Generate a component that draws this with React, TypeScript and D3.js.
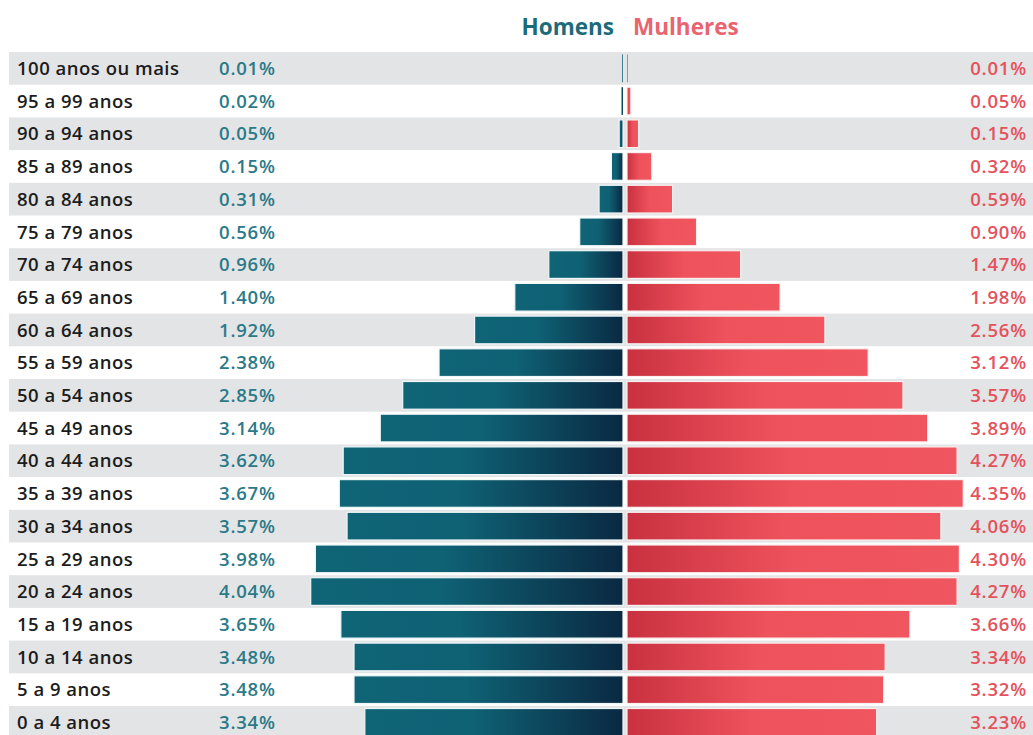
import React from "react";
import * as d3 from "d3";

const ageGroups = [
  "100 anos ou mais", "95 a 99 anos", "90 a 94 anos", "85 a 89 anos", "80 a 84 anos",
  "75 a 79 anos", "70 a 74 anos", "65 a 69 anos", "60 a 64 anos", "55 a 59 anos",
  "50 a 54 anos", "45 a 49 anos", "40 a 44 anos", "35 a 39 anos", "30 a 34 anos",
  "25 a 29 anos", "20 a 24 anos", "15 a 19 anos", "10 a 14 anos", "5 a 9 anos", "0 a 4 anos",
];
const men = [0.01, 0.02, 0.05, 0.15, 0.31, 0.56, 0.96, 1.40, 1.92, 2.38, 2.85, 3.14, 3.62, 3.67, 3.57, 3.98, 4.04, 3.65, 3.48, 3.48, 3.34];
const women = [0.01, 0.05, 0.15, 0.32, 0.59, 0.90, 1.47, 1.98, 2.56, 3.12, 3.57, 3.89, 4.27, 4.35, 4.06, 4.30, 4.27, 3.66, 3.34, 3.32, 3.23];
const seriesNames = ["Homens", "Mulheres"];

const W = 1033;
const H = 735;
const FONT = "'Open Sans', Lato, sans-serif";

export default function App() {
  const y = d3.scaleBand<string>().domain(ageGroups).range([52, 52 + 21 * 32.7]).padding(0);
  const xMen = d3.scaleLinear().domain([0, 4.5]).range([623, 623 - 4.5 * 77.3]);
  const xWomen = d3.scaleLinear().domain([0, 4.5]).range([627, 627 + 4.5 * 77.3]);
  const bh = y.bandwidth();
  const inset = 2.5;
  const fmt = (v: number) => v.toFixed(2) + "%";

  return (
    <svg width={W} height={H} style={{ position: "absolute", left: 0, top: 0, background: "#fff" }}>
      <defs>
        <linearGradient id="gMen" x1="0" x2="1" y1="0" y2="0">
          <stop offset="0" stopColor="#0f6476" />
          <stop offset="0.42" stopColor="#0f6174" />
          <stop offset="1" stopColor="#0a2942" />
        </linearGradient>
        <linearGradient id="gWomen" x1="0" x2="1" y1="0" y2="0">
          <stop offset="0" stopColor="#c93140" />
          <stop offset="0.5" stopColor="#ee525c" />
          <stop offset="1" stopColor="#f0565f" />
        </linearGradient>
      </defs>
      {ageGroups.map((g, i) =>
        i % 2 === 0 ? (
          <rect key={"s" + g} x={9} y={y(g)!} width={W - 9} height={bh} fill="#e3e4e6" />
        ) : null
      )}
      <text x={614} y={35} textAnchor="end" fontFamily={FONT} fontWeight={700} fontSize={22.5} fill="#1b6b79">
        {seriesNames[0]}
      </text>
      <text x={633} y={35} textAnchor="start" fontFamily={FONT} fontWeight={700} fontSize={22.5} fill="#e8646e">
        {seriesNames[1]}
      </text>
      {ageGroups.map((g, i) => {
        const yy = y(g)!;
        const cy = yy + bh / 2;
        const wm = xMen(0) - xMen(men[i]);
        const ww = xWomen(women[i]) - xWomen(0);
        return (
          <g key={g}>
            <rect
              x={xMen(men[i])}
              y={yy + inset}
              width={wm}
              height={bh - 2 * inset}
              fill="url(#gMen)"
              stroke={wm > 2 ? "#eef7f8" : "none"}
              strokeWidth={1.2}
            />
            <rect
              x={xWomen(0)}
              y={yy + inset}
              width={ww}
              height={bh - 2 * inset}
              fill="url(#gWomen)"
              stroke={ww > 2 ? "#fbeeee" : "none"}
              strokeWidth={1.2}
            />
            <text x={17} y={cy} dy="0.36em" fontFamily={FONT} fontWeight={600} fontSize={18.5} letterSpacing={0.5} fill="#1c1c1c">
              {g}
            </text>
            <text x={219} y={cy} dy="0.36em" fontFamily={FONT} fontWeight={600} fontSize={18.5} letterSpacing={0.8} fill="#2b7a88">
              {fmt(men[i])}
            </text>
            <text x={1027} y={cy} dy="0.36em" textAnchor="end" fontFamily={FONT} fontWeight={600} fontSize={18.5} letterSpacing={0.8} fill="#e4525c">
              {fmt(women[i])}
            </text>
          </g>
        );
      })}
    </svg>
  );
}
